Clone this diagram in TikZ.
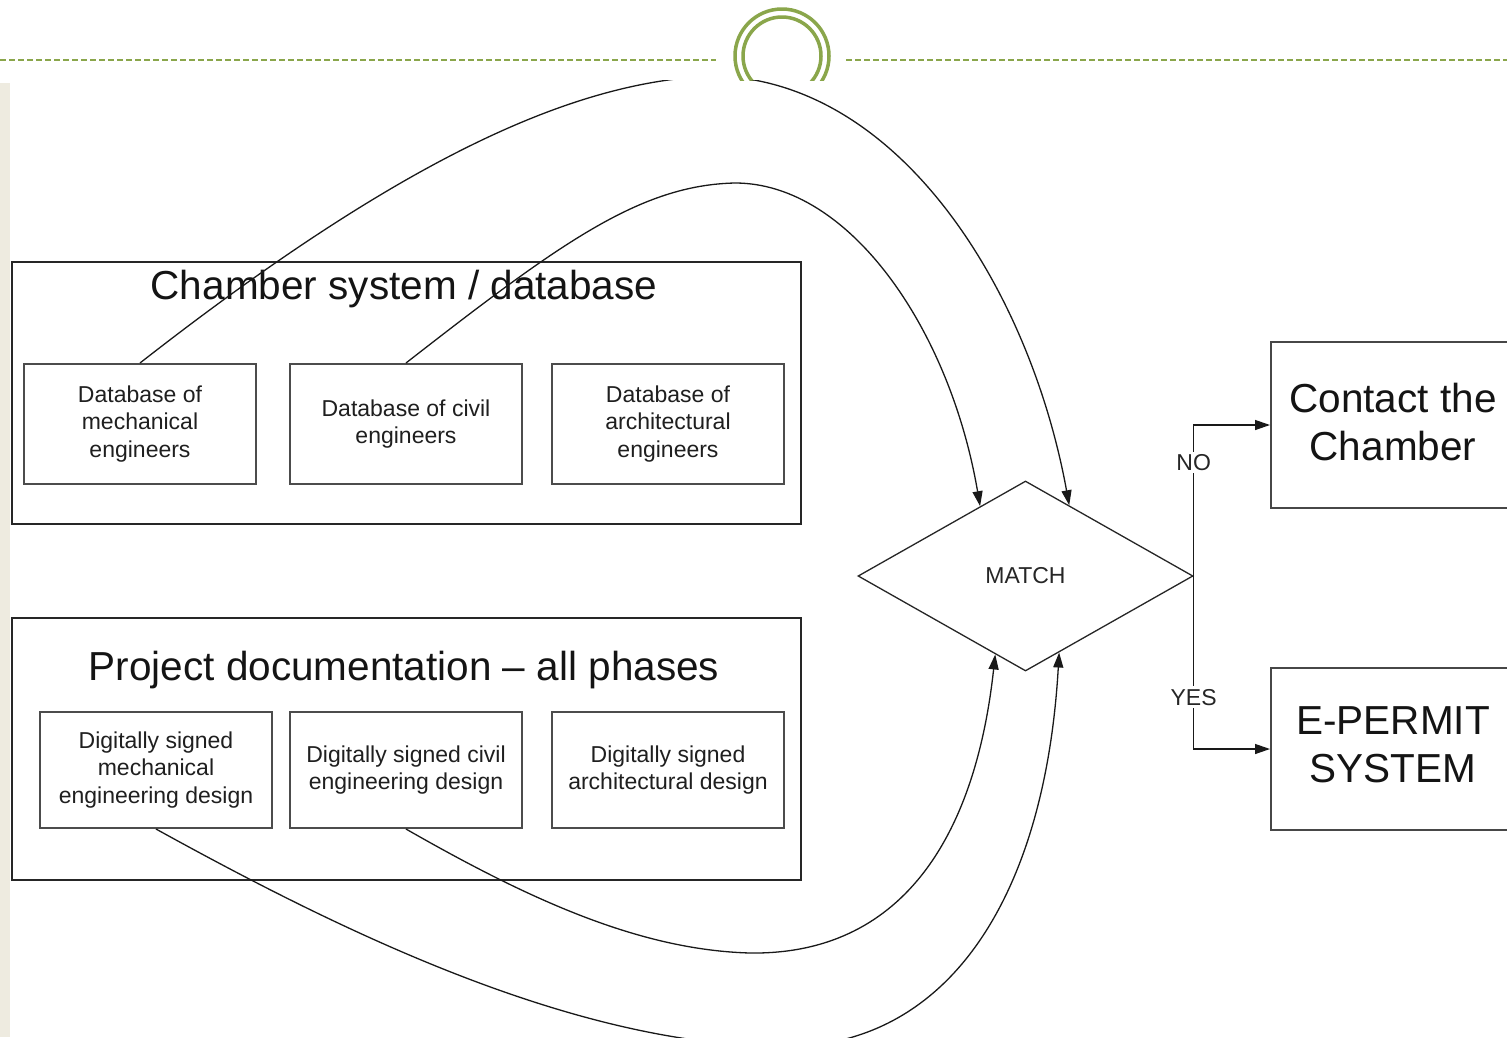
\documentclass[tikz,border=0pt]{standalone}
\usepackage{fontspec}
\setmainfont{Liberation Sans}
\usetikzlibrary{shapes.geometric,arrows.meta,calc}
\definecolor{ringgreen}{RGB}{138,166,75}
\definecolor{stripbeige}{RGB}{238,235,224}
\begin{document}
\begin{tikzpicture}[x=1pt,y=-1pt,
  bigfont/.style={font=\fontsize{40.5}{48.5}\selectfont},
  smallfont/.style={font=\fontsize{23}{27.5}\selectfont},
  container/.style={draw=black!85,line width=1.6pt,inner sep=0pt,anchor=north west,minimum width=789pt,minimum height=262pt},
  inbox/.style={draw=black!70,line width=2pt,inner sep=0pt,align=center,smallfont,text=black!88,minimum width=232pt},
  sidebox/.style={draw=black!72,line width=2pt,inner sep=0pt,anchor=north west,minimum width=260pt},
  conn/.style={draw=black!90,line width=1.3pt},
  arr/.style={conn,-{Triangle[length=15pt,width=10pt]}},
  lbl/.style={smallfont,fill=white,inner sep=2.5pt,text=black!85},
  ring/.style={draw=ringgreen,line width=3.5pt},
  header/.style={draw=ringgreen,line width=1.8pt,dash pattern=on 6pt off 3pt}
]
\useasboundingbox (0,0) rectangle (1507,1037);
\clip (0,0) rectangle (1507,1037);
\fill[white] (0,0) rectangle (1507,1037);
% slide header
\fill[stripbeige] (0,83) rectangle (10,1037);
\coordinate (hl1) at (0,60); \coordinate (hl2) at (716,60);
\coordinate (hr1) at (846,60); \coordinate (hr2) at (1507,60);
\draw[header] (hl1) -- (hl2);
\draw[header] (hr1) -- (hr2);
\begin{scope}
  \clip (600,0) rectangle (960,80);
  \coordinate (ringc) at (782,56);
  \draw[ring] (ringc) circle[radius=47];
  \draw[ring] (ringc) circle[radius=39];
\end{scope}

% containers
\node[container] (chamber) at (11,261) {};
\node[bigfont,anchor=base,text=black!92] (chambertitle) at (404,299) {Chamber system / database};
\node[container] (project) at (11,617) {};
\node[bigfont,anchor=base,text=black!92] (projecttitle) at (404,680) {Project documentation -- all phases};

% inner boxes
\node[inbox,minimum height=120pt] (dbmech) at (140,424) {Database of\\mechanical\\engineers};
\node[inbox,minimum height=120pt] (dbcivil) at (406,424) {Database of civil\\engineers};
\node[inbox,minimum height=120pt] (dbarch) at (668,424) {Database of\\architectural\\engineers};
\node[inbox,minimum height=116pt] (dsmech) at (156,770) {Digitally signed\\mechanical\\engineering design};
\node[inbox,minimum height=116pt] (dscivil) at (406,770) {Digitally signed civil\\engineering design};
\node[inbox,minimum height=116pt] (dsarch) at (668,770) {Digitally signed\\architectural design};

% decision
\node[diamond,draw=black!85,line width=1.3pt,aspect=1.76,minimum width=335pt,minimum height=190pt,inner sep=0pt,smallfont,text=black!85] (match) at (1025.5,576) {MATCH};

% outcome boxes
\node[sidebox,minimum height=166pt] (contact) at (1270,341) {};
\node[bigfont,align=center,text=black!92] (contacttext) at (1393,422) {Contact the\\Chamber};
\node[sidebox,minimum height=162pt] (epermit) at (1270,667) {};
\node[bigfont,align=center,text=black!92] (epermittext) at (1393,745) {E-PERMIT\\SYSTEM};

\draw[arr] (match.east) |- node[pos=0.375,lbl] (nolbl) {NO} (contact.west);
\draw[arr] (match.east) |- node[pos=0.35,lbl] (yeslbl) {YES} (epermit.west);

% curved connectors
\coordinate (m1) at ($(match.north)!0.26!(match.east)$);
\coordinate (m2) at ($(match.north)!0.27!(match.west)$);
\coordinate (m3) at ($(match.south)!0.2!(match.east)$);
\coordinate (m4) at ($(match.south)!0.18!(match.west)$);
\coordinate (peak1) at (715,76);
\coordinate (peak2) at (735,183);
\coordinate (low3) at (765,1046);
\coordinate (low4) at (750,953);
\begin{scope}
  \clip (10,80) rectangle (1507,1037);
  \draw[arr] (dbmech.north) .. controls (410,152) and (580,80) .. (peak1)
     .. controls (900,80) and (1030,290) .. (m1);
  \draw[arr] (dbcivil.north) .. controls (560,243) and (640,185) .. (peak2)
     .. controls (850,183) and (950,330) .. (m2);
  \draw[arr] (dsmech.south) .. controls (330,925) and (560,1040) .. (low3)
     .. controls (945,1058) and (1045,900) .. (m3);
  \draw[arr] (dscivil.south) .. controls (530,900) and (640,950) .. (low4)
     .. controls (900,955) and (975,840) .. (m4);
\end{scope}
\end{tikzpicture}
\end{document}
